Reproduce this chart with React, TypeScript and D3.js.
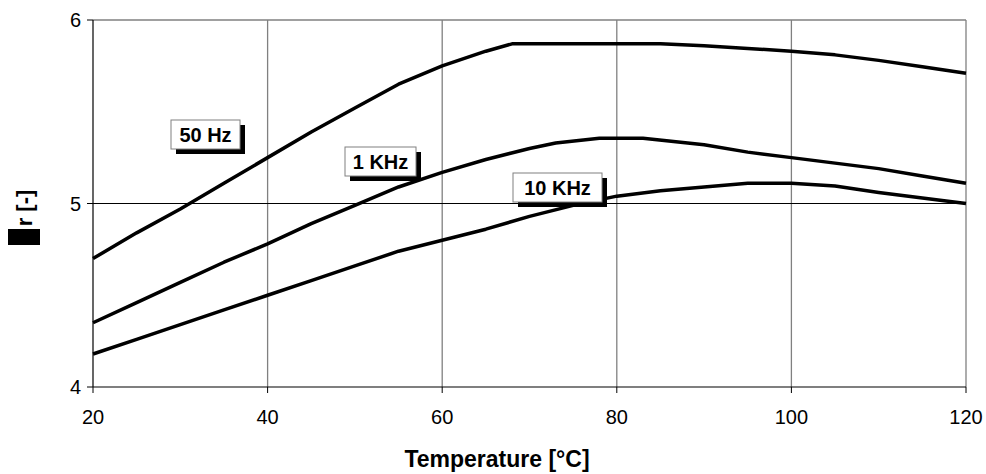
import React from "react";
import * as d3 from "d3";

const temps50 = [20, 25, 30, 35, 40, 45, 50, 55, 60, 65, 68, 85, 90, 95, 100, 105, 110, 115, 120];
const values50 = [4.7, 4.84, 4.97, 5.11, 5.25, 5.39, 5.52, 5.65, 5.75, 5.83, 5.87, 5.87, 5.86, 5.845, 5.83, 5.81, 5.78, 5.745, 5.71];
const temps1k = [20, 25, 30, 35, 40, 45, 50, 55, 60, 65, 70, 73, 78, 83, 90, 95, 100, 105, 110, 115, 120];
const values1k = [4.35, 4.46, 4.57, 4.68, 4.78, 4.89, 4.99, 5.09, 5.17, 5.24, 5.3, 5.33, 5.355, 5.355, 5.32, 5.28, 5.25, 5.22, 5.19, 5.15, 5.11];
const temps10k = [20, 25, 30, 35, 40, 45, 50, 55, 60, 65, 70, 75, 80, 85, 90, 95, 100, 105, 110, 115, 120];
const values10k = [4.18, 4.26, 4.34, 4.42, 4.5, 4.58, 4.66, 4.74, 4.8, 4.86, 4.93, 4.99, 5.04, 5.07, 5.09, 5.11, 5.11, 5.095, 5.06, 5.03, 5.0];
const seriesNames = ["50 Hz", "1 KHz", "10 KHz"];
const xTicks = [20, 40, 60, 80, 100, 120];
const yTicks = [4, 5, 6];
const xTitle = "Temperature [°C]";
const yTitle = "r [-]";

const W = 986;
const H = 474;
const M = { left: 93, right: 966, top: 20, bottom: 387 };
const FONT = "'Liberation Sans', Arial, sans-serif";

// label boxes: [x, y, w, h]
const labelBoxes: [number, number, number, number][] = [
  [171, 120, 69, 29],
  [345, 147, 71, 29],
  [513, 173, 89, 29],
];

export default function App() {
  const x = d3.scaleLinear().domain([20, 120]).range([M.left, M.right]);
  const y = d3.scaleLinear().domain([4, 6]).range([M.bottom, M.top]);
  const line = d3
    .line<[number, number]>()
    .x((d) => x(d[0]))
    .y((d) => y(d[1]));
  const series: [number, number][][] = [
    temps50.map((t, i) => [t, values50[i]]),
    temps1k.map((t, i) => [t, values1k[i]]),
    temps10k.map((t, i) => [t, values10k[i]]),
  ];
  const gray = "#808080";
  return (
    <svg width={W} height={H} style={{ position: "absolute", left: 0, top: 0 }}>
      <rect x={0} y={0} width={W} height={H} fill="#fff" />
      {xTicks.slice(1).map((t) => (
        <line key={"vg" + t} x1={x(t)} x2={x(t)} y1={y(6)} y2={y(4)} stroke={gray} strokeWidth={1.3} />
      ))}
      <line x1={x(20)} x2={x(120)} y1={y(6)} y2={y(6)} stroke={gray} strokeWidth={1.3} />
      <line x1={x(20)} x2={x(120)} y1={y(5)} y2={y(5)} stroke="#000" strokeWidth={1} />
      <line x1={x(20)} x2={x(120)} y1={y(4)} y2={y(4)} stroke="#000" strokeWidth={1.2} />
      <line x1={x(20)} x2={x(20)} y1={y(6)} y2={y(4)} stroke="#000" strokeWidth={1.2} />
      {yTicks.map((t) => (
        <g key={"yt" + t}>
          <line x1={x(20) - 6} x2={x(20)} y1={y(t)} y2={y(t)} stroke="#000" strokeWidth={1} />
          <text x={x(20) - 12} y={y(t)} dy="0.35em" textAnchor="end" fontFamily={FONT} fontSize={20}>
            {t}
          </text>
        </g>
      ))}
      {xTicks.map((t) => (
        <g key={"xt" + t}>
          <line x1={x(t)} x2={x(t)} y1={y(4)} y2={y(4) + 6} stroke="#000" strokeWidth={1} />
          <text x={x(t)} y={y(4) + 37} textAnchor="middle" fontFamily={FONT} fontSize={20}>
            {t}
          </text>
        </g>
      ))}
      {series.map((s, i) => (
        <path key={"s" + i} d={line(s) || ""} fill="none" stroke="#000" strokeWidth={3.5} strokeLinejoin="round" />
      ))}
      {labelBoxes.map((b, i) => (
        <g key={"lb" + i}>
          <rect x={b[0] + 5} y={b[1] + 5} width={b[2]} height={b[3]} fill="#000" />
          <rect x={b[0]} y={b[1]} width={b[2]} height={b[3]} fill="#fff" stroke={gray} strokeWidth={1} />
          <text
            x={b[0] + b[2] / 2}
            y={b[1] + b[3] / 2}
            dy="0.36em"
            textAnchor="middle"
            fontFamily={FONT}
            fontSize={20}
            fontWeight="bold"
          >
            {seriesNames[i]}
          </text>
        </g>
      ))}
      <text x={497} y={467} textAnchor="middle" fontFamily={FONT} fontSize={23} fontWeight="bold">
        {xTitle}
      </text>
      <rect x={8} y={229} width={32} height={16} fill="#000" />
      <text
        transform={`translate(32,208) rotate(-90)`}
        textAnchor="middle"
        fontFamily={FONT}
        fontSize={22}
        fontWeight="bold"
      >
        {yTitle}
      </text>
    </svg>
  );
}
